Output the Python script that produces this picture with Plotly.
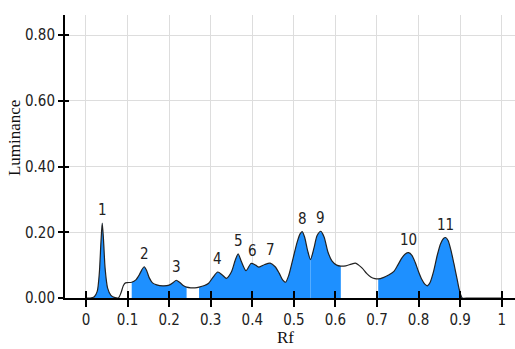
import numpy as np
import plotly.graph_objects as go

# Densitogram: luminance along the Rf axis
rf = [0.0, 0.01, 0.02, 0.027, 0.032, 0.036, 0.039, 0.042, 0.046, 0.052, 0.06, 0.07,
      0.078, 0.084, 0.09, 0.095, 0.1, 0.11, 0.12, 0.128, 0.134, 0.14, 0.146, 0.152,
      0.16, 0.17, 0.185, 0.2, 0.21, 0.217, 0.225, 0.234, 0.242, 0.252, 0.262, 0.272,
      0.285, 0.295, 0.305, 0.317, 0.328, 0.338, 0.35, 0.359, 0.366, 0.374, 0.385,
      0.397, 0.408, 0.416, 0.43, 0.443, 0.455, 0.465, 0.473, 0.48, 0.488, 0.498,
      0.508, 0.515, 0.52, 0.526, 0.533, 0.54, 0.548, 0.556, 0.565, 0.573, 0.582,
      0.592, 0.603, 0.613, 0.625, 0.638, 0.648, 0.656, 0.665, 0.675, 0.685, 0.695,
      0.703, 0.715, 0.728, 0.74, 0.75, 0.76, 0.768, 0.776, 0.784, 0.792, 0.8, 0.808,
      0.815, 0.821, 0.828, 0.836, 0.845, 0.853, 0.86, 0.865, 0.871, 0.878, 0.885,
      0.892, 0.898, 0.905, 0.92, 0.95, 1.0]
luminance = [0.0, 0.0, 0.004, 0.02, 0.075, 0.17, 0.228, 0.18, 0.09, 0.03, 0.008, 0.001,
             0.0, 0.015, 0.038, 0.046, 0.047, 0.048, 0.055, 0.07, 0.085, 0.095, 0.083,
             0.062, 0.046, 0.04, 0.037, 0.039, 0.047, 0.054, 0.048, 0.038, 0.033, 0.031,
             0.031, 0.033, 0.038, 0.045, 0.062, 0.079, 0.07, 0.06, 0.08, 0.115, 0.134,
             0.11, 0.083, 0.105, 0.1, 0.094, 0.102, 0.106, 0.095, 0.075, 0.055, 0.048,
             0.07, 0.12, 0.17, 0.195, 0.202, 0.185, 0.145, 0.117, 0.15, 0.19, 0.203,
             0.185, 0.14, 0.112, 0.1, 0.097, 0.098, 0.103, 0.106, 0.1, 0.09, 0.075,
             0.064, 0.059, 0.058, 0.062, 0.07, 0.08, 0.1, 0.122, 0.134, 0.138, 0.13,
             0.108, 0.08, 0.056, 0.042, 0.037, 0.048, 0.08, 0.13, 0.165, 0.181, 0.184,
             0.175, 0.145, 0.105, 0.062, 0.025, 0.0, 0.0, 0.0, 0.0]

# Integrated zones (start, end) in Rf
zone_start = [0.01, 0.11, 0.272, 0.54, 0.703]
zone_end = [0.078, 0.242, 0.54, 0.613, 0.905]

# Numbered peaks
peak_rf = [0.039, 0.14, 0.217, 0.317, 0.366, 0.4, 0.443, 0.52, 0.565, 0.776, 0.865]
peak_label = ["1", "2", "3", "4", "5", "6", "7", "8", "9", "10", "11"]

x_ticks = [0.0, 0.1, 0.2, 0.3, 0.4, 0.5, 0.6, 0.7, 0.8, 0.9, 1.0]
x_ticktext = ["0", "0.1", "0.2", "0.3", "0.4", "0.5", "0.6", "0.7", "0.8", "0.9", "1"]
y_ticks = [0.0, 0.2, 0.4, 0.6, 0.8]
y_ticktext = ["0.00", "0.20", "0.40", "0.60", "0.80"]

X_RANGE = [-0.0505, 1.032]
Y_RANGE = [0.0, 0.861]

NARROW = "DejaVu Sans Condensed, Liberation Sans Narrow, Arial Narrow, Liberation Sans, sans-serif"
SERIF = "Liberation Serif, Times New Roman, serif"
FILL = "#1E90FF"

rf_arr = np.array(rf)
lum_arr = np.array(luminance)

fig = go.Figure()

for a, b in zip(zone_start, zone_end):
    m = (rf_arr >= a - 1e-9) & (rf_arr <= b + 1e-9)
    fig.add_trace(go.Scatter(
        x=rf_arr[m], y=lum_arr[m], mode="lines", fill="tozeroy",
        fillcolor=FILL, line=dict(width=0, shape="spline", smoothing=0.7),
        hoverinfo="skip", showlegend=False))

fig.add_trace(go.Scatter(
    x=rf, y=luminance, mode="lines",
    line=dict(color="#222222", width=1.2, shape="spline", smoothing=0.7),
    showlegend=False))

# companion axes carrying the inner half of the tick marks
fig.add_trace(go.Scatter(x=[0.5], y=[0.4], xaxis="x2", yaxis="y2", mode="markers",
                         marker=dict(opacity=0), hoverinfo="skip", showlegend=False))

peak_y = np.interp(peak_rf, rf_arr, lum_arr)
for px, py, t in zip(peak_rf, peak_y, peak_label):
    fig.add_annotation(x=px, y=py, text=t, showarrow=False, yanchor="bottom",
                       yshift=2, font=dict(family=NARROW, size=15, color="#222222"))

fig.add_annotation(xref="paper", yref="paper", x=-0.112, y=0.5636, text="Luminance",
                   textangle=-90, showarrow=False, xanchor="center", yanchor="middle",
                   font=dict(family=SERIF, size=17, color="#111111"))
fig.add_annotation(xref="paper", yref="paper", x=0.489, y=-0.14, text="Rf",
                   showarrow=False, xanchor="center", yanchor="middle",
                   font=dict(family=SERIF, size=17, color="#111111"))

axis_common = dict(showline=True, linecolor="black", linewidth=2, zeroline=False,
                   tickcolor="black", tickwidth=2,
                   tickfont=dict(family=NARROW, size=15, color="#222222"))

fig.update_layout(
    width=515, height=349,
    margin=dict(l=65, r=0, t=15, b=51),
    paper_bgcolor="white", plot_bgcolor="white",
    xaxis=dict(range=X_RANGE, tickmode="array", tickvals=x_ticks, ticktext=x_ticktext,
               ticks="outside", ticklen=7, showgrid=True, gridcolor="#dddddd",
               gridwidth=1, **axis_common),
    yaxis=dict(range=Y_RANGE, tickmode="array", tickvals=y_ticks, ticktext=y_ticktext,
               ticks="outside", ticklen=5, showgrid=True, gridcolor="#dddddd",
               gridwidth=1, **axis_common),
    xaxis2=dict(range=X_RANGE, overlaying="x", anchor="y2", side="bottom",
                tickmode="array", tickvals=x_ticks, ticks="inside", ticklen=7,
                tickcolor="black", tickwidth=2, showticklabels=False,
                showgrid=False, zeroline=False, showline=False),
    yaxis2=dict(range=Y_RANGE, overlaying="y", anchor="x2", side="left",
                tickmode="array", tickvals=y_ticks, ticks="inside", ticklen=4,
                tickcolor="black", tickwidth=2, showticklabels=False,
                showgrid=False, zeroline=False, showline=False),
)

fig.write_html("out.html")
